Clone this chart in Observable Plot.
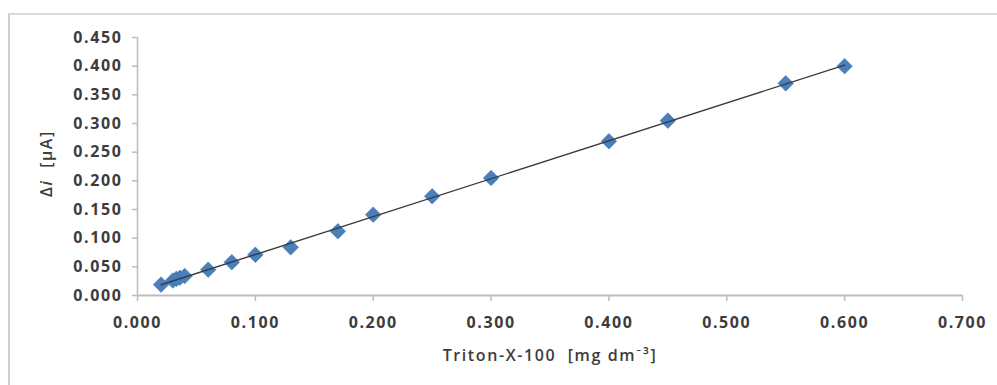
<!DOCTYPE html>
<html>
<head>
<meta charset="utf-8">
<script src="https://cdn.jsdelivr.net/npm/d3@7"></script>
<script src="https://cdn.jsdelivr.net/npm/@observablehq/plot@0.6"></script>
<style>
  html, body { margin: 0; padding: 0; background: #fff; overflow: hidden; }
  #wrap { position: relative; width: 997px; height: 385px; }
  #frame { position: absolute; left: 8px; top: 13px; width: 1000px; height: 400px;
           border-left: 2px solid #cfcfcf; border-top: 2px solid #dadada; box-sizing: border-box; }
  #chart { position: absolute; left: 0; top: 0; }
  #chart text { letter-spacing: 1.6px; }
</style>
</head>
<body>
<div id="wrap"><div id="frame"></div><div id="chart"></div></div>
<script>
// Triton-X-100 concentration [mg dm^-3]
const concentration = [0.020, 0.030, 0.033, 0.036, 0.040, 0.060, 0.080, 0.100, 0.130, 0.170, 0.200, 0.250, 0.300, 0.400, 0.450, 0.550, 0.600];
// Δi [μA]
const deltaI = [0.019, 0.026, 0.029, 0.031, 0.034, 0.045, 0.058, 0.071, 0.084, 0.112, 0.141, 0.173, 0.205, 0.269, 0.305, 0.370, 0.400];
const xTicks = [0, 0.1, 0.2, 0.3, 0.4, 0.5, 0.6, 0.7];
const yTicks = [0, 0.05, 0.1, 0.15, 0.2, 0.25, 0.3, 0.35, 0.4, 0.45];
const xTitle = "Triton-X-100  [mg dm\u207B\u00B3]";
const yTitle = "\u0394i  [\u03BCA]";

const data = concentration.map((c, i) => ({x: c, y: deltaI[i]}));
const fmt = d3.format(".3f");
const axisGray = "#bdbdbd";
const textGray = "#3c3c3c";

const chart = Plot.plot({
  width: 997,
  height: 385,
  marginLeft: 137,
  marginRight: 35,
  marginTop: 37,
  marginBottom: 90,
  style: {background: "transparent", fontFamily: "'Open Sans', Lato, sans-serif"},
  x: {domain: [0, 0.7]},
  y: {domain: [0, 0.45]},
  marks: [
    Plot.ruleY([0], {stroke: axisGray, strokeWidth: 2}),
    Plot.ruleX([0], {stroke: axisGray, strokeWidth: 1.5}),
    Plot.axisX(xTicks, {tickSize: 6, tickPadding: 15, stroke: axisGray, strokeWidth: 1.5, fill: textGray, tickFormat: fmt, fontSize: 16, fontWeight: "bold", label: null}),
    Plot.axisY(yTicks, {tickSize: 5, tickPadding: 10, stroke: axisGray, strokeWidth: 1.5, fill: textGray, tickFormat: fmt, fontSize: 16, fontWeight: "bold", label: null}),
    Plot.dot(data, {x: "x", y: "y", symbol: "diamond2", r: 7, fill: "#4a7ebd", stroke: "#4276b4", strokeWidth: 0.6}),
    Plot.linearRegressionY(data, {x: "x", y: "y", stroke: "#3c3c3c", strokeWidth: 1.4, ci: 0}),
    Plot.text([xTitle], {frameAnchor: "bottom", lineAnchor: "middle", dy: 60, fill: textGray, fontSize: 16, fontWeight: 600}),
    Plot.text([yTitle], {frameAnchor: "left", textAnchor: "middle", lineAnchor: "middle", dx: -91, dy: -3, rotate: -90, fill: textGray, fontSize: 16, fontWeight: 600, className: "ytitle"})
  ]
});
document.getElementById("chart").appendChild(chart);

// italic "i" in the y title
d3.select(chart).selectAll("g.ytitle text").each(function() {
  const t = d3.select(this);
  t.text(null);
  t.append("tspan").text("\u0394");
  t.append("tspan").attr("font-style", "italic").text("i");
  t.append("tspan").text("  [\u03BCA]");
});
</script>
</body>
</html>
